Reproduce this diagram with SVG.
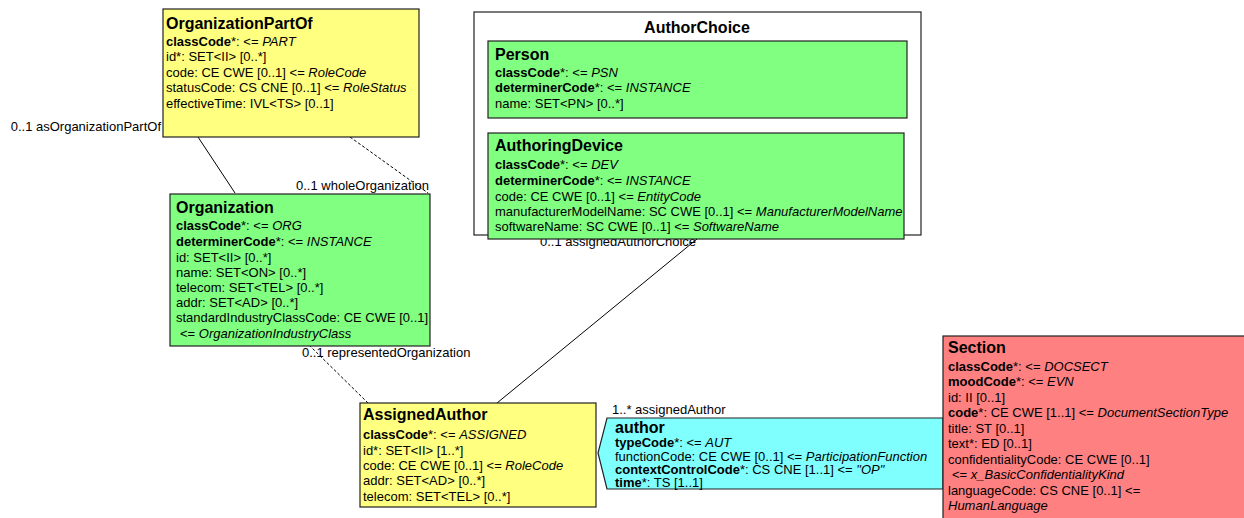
<svg xmlns="http://www.w3.org/2000/svg" width="1244" height="518" viewBox="0 0 1244 518">
<style>
text{font-family:"Liberation Sans",Arial,sans-serif;font-size:13px;fill:#000}
.t{font-size:16px;font-weight:bold}
.b{font-weight:bold}
.i{font-style:italic}
.box{stroke:#222;stroke-width:1.2}
.y{fill:#ffff80}
.g{fill:#80ff80}
.r{fill:#ff8080}
.c{fill:#80ffff}
.ln{stroke:#000;stroke-width:1;fill:none}
.dash{stroke-dasharray:3,2}
</style>
<rect width="1244" height="518" fill="#fff"/>

<g id="AuthorChoice">
<rect x="474" y="12" width="447" height="223" fill="#fff" stroke="#222" stroke-width="1.2"/>
<text x="697" y="33" class="t" text-anchor="middle">AuthorChoice</text>
</g>

<g id="connectors">
<line class="ln" x1="198" y1="137" x2="235" y2="193"/>
<line class="ln dash" x1="350" y1="137" x2="428" y2="193"/>
<line class="ln dash" x1="309" y1="345" x2="368" y2="403"/>
<text x="161" y="131" text-anchor="end">0..1 asOrganizationPartOf</text>
<text x="429" y="190" text-anchor="end">0..1 wholeOrganization</text>
<text x="302" y="357">0..1 representedOrganization</text>
<text x="540" y="246">0..1 assignedAuthorChoice</text>
<text x="612" y="414">1..* assignedAuthor</text>
</g>

<g id="OrganizationPartOf">
<rect class="box y" x="163" y="9" width="256" height="128"/>
<text x="166" y="29" class="t">OrganizationPartOf</text>
<text x="166" y="46"><tspan class="b">classCode</tspan>*: &lt;= <tspan class="i">PART</tspan></text>
<text x="166" y="61">id*: SET&lt;II&gt; [0..*]</text>
<text x="166" y="77">code: CE CWE [0..1] &lt;= <tspan class="i">RoleCode</tspan></text>
<text x="166" y="92">statusCode: CS CNE [0..1] &lt;= <tspan class="i">RoleStatus</tspan></text>
<text x="166" y="108">effectiveTime: IVL&lt;TS&gt; [0..1]</text>
</g>

<g id="Organization">
<rect class="box g" x="170" y="194" width="260" height="152"/>
<text x="176" y="213" class="t">Organization</text>
<text x="176" y="230"><tspan class="b">classCode</tspan>*: &lt;= <tspan class="i">ORG</tspan></text>
<text x="176" y="246"><tspan class="b">determinerCode</tspan>*: &lt;= <tspan class="i">INSTANCE</tspan></text>
<text x="176" y="262">id: SET&lt;II&gt; [0..*]</text>
<text x="176" y="277">name: SET&lt;ON&gt; [0..*]</text>
<text x="176" y="292">telecom: SET&lt;TEL&gt; [0..*]</text>
<text x="176" y="307">addr: SET&lt;AD&gt; [0..*]</text>
<text x="176" y="322">standardIndustryClassCode: CE CWE [0..1]</text>
<text x="180" y="338">&lt;= <tspan class="i">OrganizationIndustryClass</tspan></text>
</g>

<g id="Person">
<rect class="box g" x="488" y="41" width="419" height="77"/>
<text x="495" y="60" class="t">Person</text>
<text x="495" y="77"><tspan class="b">classCode</tspan>*: &lt;= <tspan class="i">PSN</tspan></text>
<text x="495" y="92"><tspan class="b">determinerCode</tspan>*: &lt;= <tspan class="i">INSTANCE</tspan></text>
<text x="495" y="108">name: SET&lt;PN&gt; [0..*]</text>
</g>

<g id="AuthoringDevice">
<rect class="box g" x="488" y="133" width="416" height="106"/>
<text x="495" y="151" class="t">AuthoringDevice</text>
<text x="495" y="169"><tspan class="b">classCode</tspan>*: &lt;= <tspan class="i">DEV</tspan></text>
<text x="495" y="185"><tspan class="b">determinerCode</tspan>*: &lt;= <tspan class="i">INSTANCE</tspan></text>
<text x="495" y="201">code: CE CWE [0..1] &lt;= <tspan class="i">EntityCode</tspan></text>
<text x="495" y="216">manufacturerModelName: SC CWE [0..1] &lt;= <tspan class="i">ManufacturerModelName</tspan></text>
<text x="495" y="231">softwareName: SC CWE [0..1] &lt;= <tspan class="i">SoftwareName</tspan></text>
</g>

<g id="connector-choice">
<line class="ln" x1="697" y1="239" x2="497" y2="403"/>
</g>

<g id="AssignedAuthor">
<rect class="box y" x="360" y="403" width="236" height="104"/>
<text x="363" y="420" class="t">AssignedAuthor</text>
<text x="363" y="439"><tspan class="b">classCode</tspan>*: &lt;= <tspan class="i">ASSIGNED</tspan></text>
<text x="363" y="455">id*: SET&lt;II&gt; [1..*]</text>
<text x="363" y="470">code: CE CWE [0..1] &lt;= <tspan class="i">RoleCode</tspan></text>
<text x="363" y="485">addr: SET&lt;AD&gt; [0..*]</text>
<text x="363" y="501">telecom: SET&lt;TEL&gt; [0..*]</text>
</g>

<g id="author">
<polygon class="box c" points="607,418 943,418 943,489 607,489 598,453"/>
<text x="615" y="433" class="t">author</text>
<text x="615" y="447"><tspan class="b">typeCode</tspan>*: &lt;= <tspan class="i">AUT</tspan></text>
<text x="615" y="461">functionCode: CE CWE [0..1] &lt;= <tspan class="i">ParticipationFunction</tspan></text>
<text x="615" y="474"><tspan class="b">contextControlCode</tspan>*: CS CNE [1..1] &lt;= <tspan class="i">"OP"</tspan></text>
<text x="615" y="487"><tspan class="b">time</tspan>*: TS [1..1]</text>
</g>

<g id="Section">
<rect class="box r" x="943" y="336" width="310" height="190"/>
<text x="948" y="353" class="t">Section</text>
<text x="948" y="371"><tspan class="b">classCode</tspan>*: &lt;= <tspan class="i">DOCSECT</tspan></text>
<text x="948" y="386"><tspan class="b">moodCode</tspan>*: &lt;= <tspan class="i">EVN</tspan></text>
<text x="948" y="402">id: II [0..1]</text>
<text x="948" y="417"><tspan class="b">code</tspan>*: CE CWE [1..1] &lt;= <tspan class="i">DocumentSectionType</tspan></text>
<text x="948" y="433">title: ST [0..1]</text>
<text x="948" y="448">text*: ED [0..1]</text>
<text x="948" y="464">confidentialityCode: CE CWE [0..1]</text>
<text x="952" y="479">&lt;= <tspan class="i">x_BasicConfidentialityKind</tspan></text>
<text x="948" y="495">languageCode: CS CNE [0..1] &lt;=</text>
<text x="948" y="510" class="i">HumanLanguage</text>
</g>
</svg>
